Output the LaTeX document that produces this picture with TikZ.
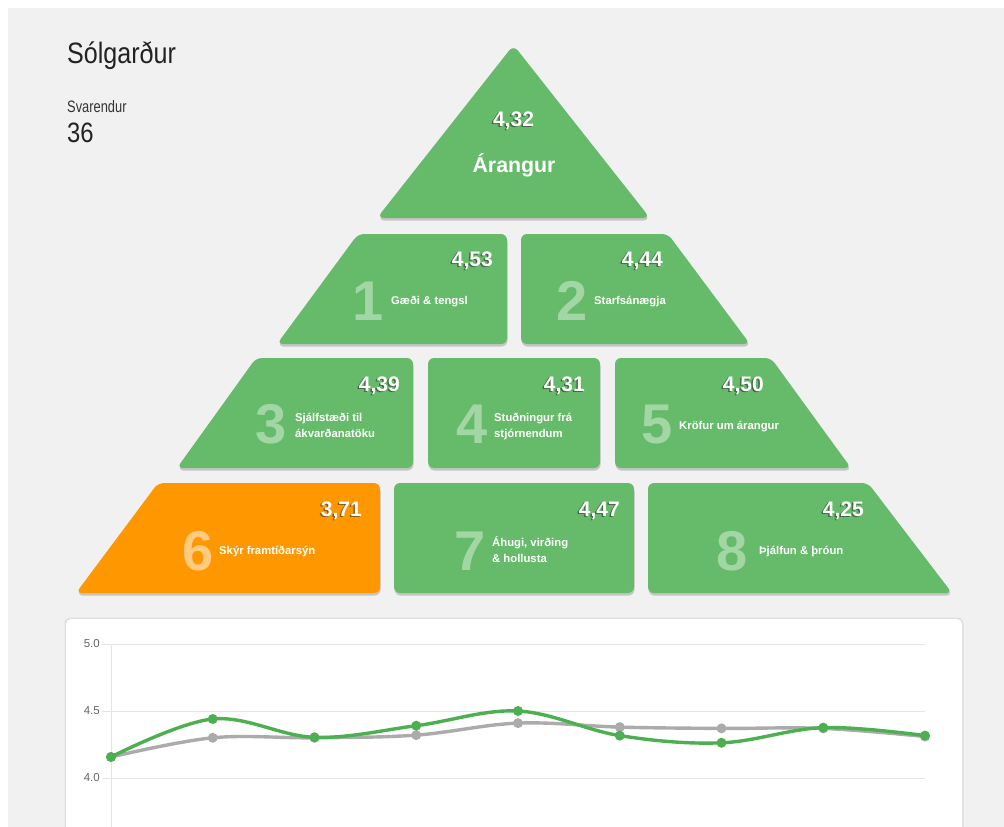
\documentclass[tikz,border=0pt]{standalone}
\usepackage{fontspec}
\setmainfont{Liberation Sans}
\newfontfamily\narrowfont[FakeStretch=0.85]{Liberation Sans}
\newfontfamily\condfont[FakeStretch=0.78]{Liberation Sans}
\definecolor{bgc}{HTML}{F1F1F1}
\definecolor{pgreen}{HTML}{66BB6A}
\definecolor{porange}{HTML}{FF9800}
\definecolor{gridc}{HTML}{E4E4E4}
\definecolor{axisc}{HTML}{666666}
\definecolor{greyline}{HTML}{ABABAB}
\definecolor{greenline}{HTML}{4CAF50}
\definecolor{titlec}{HTML}{222222}
\tikzset{
  boxfill/.style={fill=pgreen, rounded corners=6pt},
  boxshadow/.style={fill=black, opacity=0.18, rounded corners=6pt},
  num/.style={font=\bfseries\fontsize{21}{21}\selectfont, text=white, anchor=base east, inner sep=0pt},
  numshadow/.style={num, text=black!85, opacity=0.55},
  bigdigit/.style={font=\bfseries\fontsize{56}{56}\selectfont, text=white, opacity=0.4, anchor=base, inner sep=0pt},
  lab/.style={font=\bfseries\fontsize{11.3}{14}\selectfont, text=white, anchor=base west, inner sep=0pt},
  axlab/.style={font=\fontsize{11.5}{12}\selectfont, text=axisc, anchor=east, inner sep=0pt},
  gline/.style={draw=gridc, line width=1pt},
}
\newcommand\pnum[4]{%
  \node[numshadow] (#1s) at (#2-1.5,#3+1.5) {#4};
  \node[num] (#1) at (#2,#3) {#4};}
\begin{document}
\begin{tikzpicture}[x=1pt,y=-1pt]
\useasboundingbox (0,0) rectangle (1004,827);
\fill[white] (0,0) rectangle (1004,827);
\fill[bgc] (8,8) rectangle (1004,827);

% header
\node[font=\narrowfont\fontsize{29.5}{29}\selectfont, text=titlec, anchor=base west, inner sep=0pt] (title) at (67,63) {Sólgarður};
\node[font=\condfont\fontsize{16.5}{17}\selectfont, text=black!80, anchor=base west, inner sep=0pt] (svar) at (67,112) {Svarendur};
\node[font=\narrowfont\fontsize{28}{28}\selectfont, text=titlec, anchor=base west, inner sep=0pt] (count) at (67,142) {36};

% shadows
\fill[boxshadow, rounded corners=7pt, shift={(0.5,2.5)}] (513.5,45) -- (650,218) -- (377,218) -- cycle;
\fill[boxshadow, shift={(0.5,2.5)}] (358,234) -- (507,234) -- (507,344) -- (277,344) -- cycle;
\fill[boxshadow, shift={(0.5,2.5)}] (521,234) -- (668,234) -- (750,344) -- (521,344) -- cycle;
\fill[boxshadow, shift={(0.5,2.5)}] (256,358) -- (413,358) -- (413,468) -- (177,468) -- cycle;
\fill[boxshadow, shift={(0.5,2.5)}] (428,358) -- (600,358) -- (600,468) -- (428,468) -- cycle;
\fill[boxshadow, shift={(0.5,2.5)}] (615,358) -- (771,358) -- (851,468) -- (615,468) -- cycle;
\fill[boxshadow, shift={(0.5,2.5)}] (158,483) -- (380,483) -- (380,593) -- (76,593) -- cycle;
\fill[boxshadow, shift={(0.5,2.5)}] (394,483) -- (634,483) -- (634,593) -- (394,593) -- cycle;
\fill[boxshadow, shift={(0.5,2.5)}] (648,483) -- (868,483) -- (952,593) -- (648,593) -- cycle;

% boxes
\fill[boxfill, rounded corners=7pt] (513.5,45) -- (650,218) -- (377,218) -- cycle;
\fill[boxfill] (358,234) -- (507,234) -- (507,344) -- (277,344) -- cycle;
\fill[boxfill] (521,234) -- (668,234) -- (750,344) -- (521,344) -- cycle;
\fill[boxfill] (256,358) -- (413,358) -- (413,468) -- (177,468) -- cycle;
\fill[boxfill] (428,358) -- (600,358) -- (600,468) -- (428,468) -- cycle;
\fill[boxfill] (615,358) -- (771,358) -- (851,468) -- (615,468) -- cycle;
\fill[boxfill, fill=porange] (158,483) -- (380,483) -- (380,593) -- (76,593) -- cycle;
\fill[boxfill] (394,483) -- (634,483) -- (634,593) -- (394,593) -- cycle;
\fill[boxfill] (648,483) -- (868,483) -- (952,593) -- (648,593) -- cycle;

% top
\node[numshadow, anchor=base] (topnums) at (512,127.5) {4,32};
\node[num, anchor=base] (topnum) at (513.5,126) {4,32};
\node[font=\bfseries\fontsize{21.3}{22}\selectfont, text=white, anchor=base, inner sep=0pt] (toplab) at (514,172) {Árangur};

% big digits
\node[bigdigit] (d1) at (368,320) {1};
\node[bigdigit] (d2) at (572,320) {2};
\node[bigdigit] (d3) at (271,443) {3};
\node[bigdigit] (d4) at (472,443) {4};
\node[bigdigit] (d5) at (657,443) {5};
\node[bigdigit, opacity=0.5] (d6) at (198,570) {6};
\node[bigdigit] (d7) at (470,570) {7};
\node[bigdigit] (d8) at (732,570) {8};

% numbers
\pnum{n1}{493}{266}{4,53}
\pnum{n2}{663}{266}{4,44}
\pnum{n3}{400}{391}{4,39}
\pnum{n4}{585}{391}{4,31}
\pnum{n5}{764}{391}{4,50}
\pnum{n6}{362}{516}{3,71}
\pnum{n7}{620}{516}{4,47}
\pnum{n8}{864}{516}{4,25}

% labels
\node[lab] (l1) at (391,304) {Gæði \& tengsl};
\node[lab] (l2) at (594,304) {Starfsánægja};
\node[lab] (l3a) at (295,421) {Sjálfstæði til};
\node[lab] (l3b) at (295,437) {ákvarðanatöku};
\node[lab] (l4a) at (494,421) {Stuðningur frá};
\node[lab] (l4b) at (494,437) {stjórnendum};
\node[lab] (l5) at (679,429) {Kröfur um árangur};
\node[lab] (l6) at (219,554) {Skýr framtíðarsýn};
\node[lab] (l7a) at (492,546) {Áhugi, virðing};
\node[lab] (l7b) at (492,562) {\& hollusta};
\node[lab] (l8) at (759,554) {Þjálfun \& þróun};

% chart card
\fill[black, opacity=0.07, rounded corners=6pt] (64.5,617.5) rectangle (963.5,845);
\fill[white, rounded corners=5pt] (66,619) rectangle (962,845);
\path[gline] (102,644) -- (925,644);
\path[gline] (102,711) -- (925,711);
\path[gline] (102,778) -- (925,778);
\path[gline] (111,644) -- (111,827);
\node[axlab] (y50) at (100,644) {5.0};
\node[axlab] (y45) at (100,711) {4.5};
\node[axlab] (y40) at (100,778) {4.0};

\draw[greyline, line width=3.4pt, line join=round] plot[smooth, tension=0.6] coordinates {(111,757) (212.75,737.8) (314.5,737.8) (416.25,735.1) (518,723.1) (619.75,727.1) (721.5,728.4) (823.25,728.4) (925,736.5)};
\foreach \x/\y in {111/757, 212.75/737.8, 314.5/737.8, 416.25/735.1, 518/723.1, 619.75/727.1, 721.5/728.4, 823.25/728.4, 925/736.5}
  \fill[greyline] (\x,\y) circle[radius=5pt];
\draw[greenline, line width=3.4pt, line join=round] plot[smooth, tension=0.6] coordinates {(111,757) (212.75,719) (314.5,737.3) (416.25,725.7) (518,711) (619.75,735.6) (721.5,742.8) (823.25,727.6) (925,735.6)};
\foreach \x/\y in {111/757, 212.75/719, 314.5/737.3, 416.25/725.7, 518/711, 619.75/735.6, 721.5/742.8, 823.25/727.6, 925/735.6}
  \fill[greenline] (\x,\y) circle[radius=5pt];
\end{tikzpicture}
\end{document}
